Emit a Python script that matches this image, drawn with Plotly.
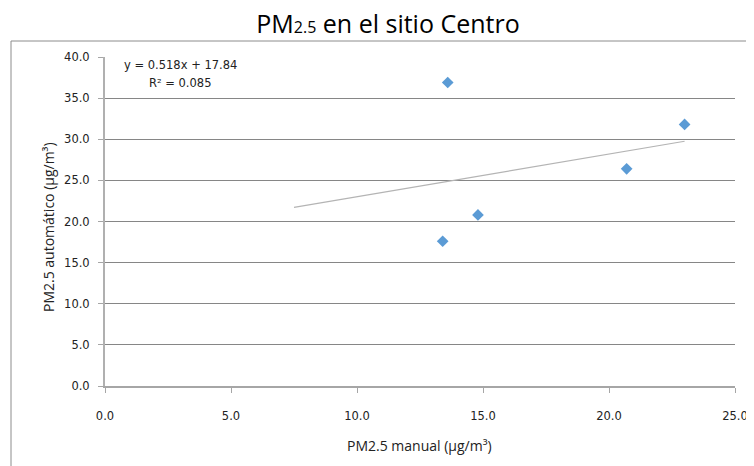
import plotly.graph_objects as go

# Data
pm_manual = [13.4, 13.6, 14.8, 20.7, 23.0]
pm_auto = [17.6, 36.9, 20.8, 26.4, 31.8]
trend_slope = 0.518
trend_intercept = 17.84
trend_r2 = 0.085
trend_x = [7.5, 23.0]
x_ticks = [0, 5, 10, 15, 20, 25]
y_ticks = [0, 5, 10, 15, 20, 25, 30, 35, 40]
x_title = "PM2.5 manual (µg/m³)"
y_title = "PM2.5 automático (µg/m³)"
chart_title = 'PM<span style="font-size:16px">2.5</span> en el sitio Centro'

trend_y = [trend_slope * x + trend_intercept for x in trend_x]

FONT = "Open Sans"
TICKFONT = "DejaVu Sans"

# page body has an 8px margin: figure is offset by 8px in both directions
OFF = 8
W, H = 754 - OFF, 466 - OFF
L, R, T, B = 105 - OFF, 19, 57 - OFF, 80
PW, PH = 630, 329
PX0, PY0 = 105, 386  # plot-area origin in window pixels


def px(xw):
    return (xw - PX0) / PW


def py(yw):
    return (PY0 - yw) / PH


fig = go.Figure()
fig.add_trace(go.Scatter(
    x=trend_x, y=trend_y, mode="lines",
    line=dict(color="#b4b4b4", width=1.2), hoverinfo="skip", showlegend=False,
))
fig.add_trace(go.Scatter(
    x=pm_manual, y=pm_auto, mode="markers",
    marker=dict(symbol="diamond", size=9, color="#5b9bd5"), showlegend=False,
))

fig.update_layout(
    width=W, height=H,
    margin=dict(l=L, r=R, t=T, b=B, autoexpand=False),
    paper_bgcolor="white", plot_bgcolor="white",
    title=dict(
        text=chart_title,
        x=(388 - OFF) / W, xanchor="center", y=1 - (24 - OFF) / H, yanchor="middle",
        font=dict(family=FONT, size=25, color="black"),
    ),
    font=dict(family=FONT, color="#222"),
    xaxis=dict(
        range=[0, 25], tickvals=x_ticks, ticktext=[f"{v:.1f}" for v in x_ticks],
        showgrid=False, zeroline=False,
        showline=True, linecolor="#a6a6a6", linewidth=1.5,
        ticks="outside", ticklen=5, tickcolor="#a6a6a6",
        ticklabelstandoff=13,
        tickfont=dict(family=TICKFONT, size=11.5, color="#222"),
    ),
    yaxis=dict(
        range=[0, 40], tickvals=y_ticks, ticktext=[f"{v:.1f}" for v in y_ticks],
        showgrid=True, gridcolor="#868686", gridwidth=1, zeroline=False,
        showline=True, linecolor="#b0b0b0", linewidth=2,
        ticks="outside", ticklen=5, tickcolor="#a6a6a6",
        ticklabelstandoff=6,
        tickfont=dict(family=TICKFONT, size=11.5, color="#222"),
    ),
    shapes=[dict(
        type="rect", xref="paper", yref="paper",
        x0=px(11), x1=1.2, y0=-0.5, y1=py(41),
        line=dict(color="#8c8c8c", width=1), fillcolor="rgba(0,0,0,0)", layer="below",
    )],
    annotations=[
        dict(text=f"y = {trend_slope}x + {trend_intercept}", xref="paper", yref="paper",
             x=px(122), y=py(65), xanchor="left", yanchor="middle", showarrow=False,
             font=dict(family=TICKFONT, size=11.5, color="#222")),
        dict(text=f"R² = {trend_r2}", xref="paper", yref="paper",
             x=px(147), y=py(83), xanchor="left", yanchor="middle", showarrow=False,
             font=dict(family=TICKFONT, size=11.5, color="#222")),
        dict(text=x_title, xref="paper", yref="paper",
             x=px(419), y=py(445), xanchor="center", yanchor="middle", showarrow=False,
             font=dict(family=FONT, size=14, color="#222")),
        dict(text=y_title, xref="paper", yref="paper", textangle=-90,
             x=px(48), y=py(227), xanchor="center", yanchor="middle", showarrow=False,
             font=dict(family=FONT, size=14, color="#222")),
    ],
)

fig.write_html("out.html")
